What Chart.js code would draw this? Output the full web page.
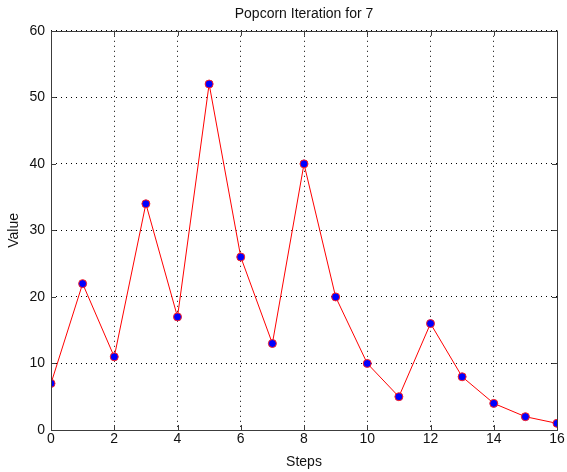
<!DOCTYPE html>
<html>
<head>
<meta charset="utf-8">
<script src="https://cdn.jsdelivr.net/npm/chart.js@4"></script>
<style>
  html, body { margin: 0; padding: 0; background: #fff; }
  #wrap { width: 567px; height: 472px; }
</style>
</head>
<body>
<div id="wrap"><canvas id="chart" width="567" height="472"></canvas></div>
<script>
// data (hailstone sequence starting at 7)
const steps = [0, 1, 2, 3, 4, 5, 6, 7, 8, 9, 10, 11, 12, 13, 14, 15, 16];
const values = [7, 22, 11, 34, 17, 52, 26, 13, 40, 20, 10, 5, 16, 8, 4, 2, 1];
const xTicks = [0, 2, 4, 6, 8, 10, 12, 14, 16];
const yTicks = [0, 10, 20, 30, 40, 50, 60];

const FONT = 'Liberation Sans, Arial, Helvetica, sans-serif';

// box round the axes + inward tick marks, matlab style
const frame = {
  id: 'frame',
  afterDatasetsDraw(chart) {
    const { ctx, chartArea: a, scales } = chart;
    ctx.save();
    ctx.strokeStyle = '#3c3c3c';
    ctx.lineWidth = 1;
    ctx.strokeRect(Math.round(a.left) + 0.5, Math.round(a.top) + 0.5,
      Math.round(a.right - a.left), Math.round(a.bottom - a.top));
    ctx.beginPath();
    xTicks.forEach(v => {
      const x = Math.round(scales.x.getPixelForValue(v)) + 0.5;
      ctx.moveTo(x, a.bottom); ctx.lineTo(x, a.bottom - 5);
      ctx.moveTo(x, a.top); ctx.lineTo(x, a.top + 5);
    });
    yTicks.forEach(v => {
      const y = Math.round(scales.y.getPixelForValue(v)) + 0.5;
      ctx.moveTo(a.left, y); ctx.lineTo(a.left + 5, y);
      ctx.moveTo(a.right, y); ctx.lineTo(a.right - 5, y);
    });
    ctx.stroke();
    ctx.restore();
  }
};

new Chart(document.getElementById('chart'), {
  type: 'line',
  data: {
    datasets: [{
      data: steps.map((s, i) => ({ x: s, y: values[i] })),
      borderColor: '#ff0000',
      borderWidth: 1,
      backgroundColor: '#0000ff',
      pointBackgroundColor: '#0000ff',
      pointBorderColor: '#ff2020',
      pointBorderWidth: 1,
      pointRadius: 4,
      tension: 0,
      fill: false
    }]
  },
  options: {
    responsive: false,
    animation: false,
    layout: { padding: { left: 0, right: 10, top: 0, bottom: 0 } },
    plugins: {
      legend: { display: false },
      tooltip: { enabled: false },
      title: {
        display: true,
        text: 'Popcorn Iteration for 7',
        fullSize: false,
        color: '#111',
        font: { family: FONT, size: 14, weight: 'normal' },
        padding: { top: 6, bottom: 8 }
      }
    },
    scales: {
      x: {
        type: 'linear',
        min: 0, max: 16,
        afterBuildTicks: s => { s.ticks = xTicks.map(v => ({ value: v })); },
        afterFit: s => { s.height = 42; },
        ticks: { color: '#111', font: { family: FONT, size: 14 }, padding: 1, maxRotation: 0 },
        grid: { color: '#000', drawTicks: false, lineWidth: 1 },
        border: { display: false, dash: [1, 4] },
        title: {
          display: true, text: 'Steps', color: '#111',
          font: { family: FONT, size: 14 }, padding: { top: 0, bottom: 1 }
        }
      },
      y: {
        min: 0, max: 60,
        afterBuildTicks: s => { s.ticks = yTicks.map(v => ({ value: v })); },
        afterFit: s => { s.width = 51; },
        ticks: { color: '#111', font: { family: FONT, size: 14 }, padding: 6 },
        grid: { color: '#000', drawTicks: false, lineWidth: 1 },
        border: { display: false, dash: [1, 4] },
        title: {
          display: true, text: 'Value', color: '#111',
          font: { family: FONT, size: 14 }, padding: { top: 6, bottom: 0 }
        }
      }
    }
  },
  plugins: [frame]
});
</script>
</body>
</html>
